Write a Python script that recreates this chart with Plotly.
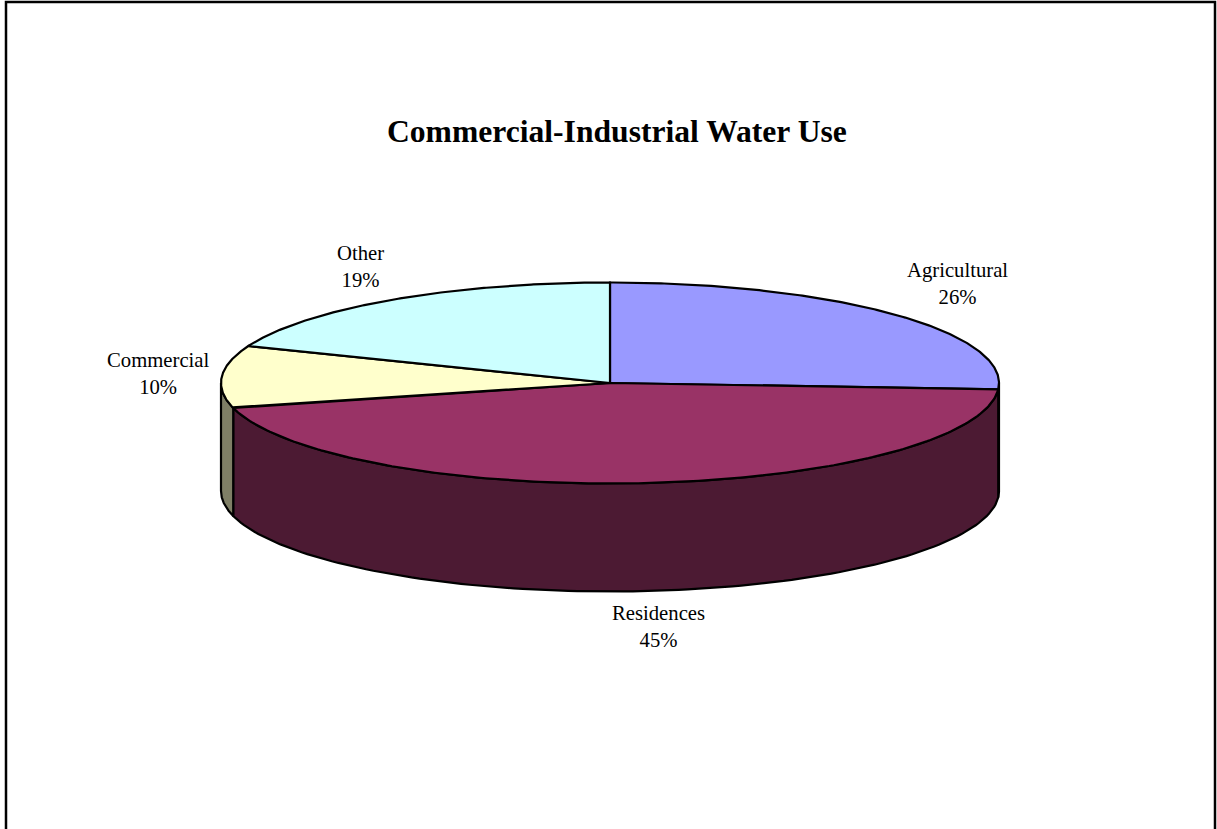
import numpy as np
import plotly.graph_objects as go

# Data
categories = ["Agricultural", "Residences", "Commercial", "Other"]
percent_values = [26, 45, 10, 19]
top_colors = ["#9999FF", "#993366", "#FFFFCC", "#CCFFFF"]
wall_colors = ["#4C4C7F", "#4C1A33", "#7F7F66", "#667F7F"]
chart_title = "Commercial-Industrial Water Use"

# Label positions (pixel coordinates of text centres)
label_x = [957, 658, 158, 360]
label_y = [283, 626, 373, 266]

W, H = 1217, 829
cx, cy, rx, ry, depth = 610, 383, 389, 100.5, 108


def rim(theta_deg, dy=0.0):
    t = np.radians(theta_deg)
    return cx + rx * np.sin(t), cy - ry * np.cos(t) + dy


fig = go.Figure()

total = sum(percent_values)
edges = np.concatenate([[0], np.cumsum(percent_values)]) / total * 360

# Side walls: only the front half (90 to 270 degrees) is visible
for i, name in enumerate(categories):
    a0, a1 = max(edges[i], 90), min(edges[i + 1], 270)
    if a1 <= a0:
        continue
    th = np.linspace(a0, a1, 120)
    x1, y1 = rim(th)
    x2, y2 = rim(th[::-1], depth)
    fig.add_trace(go.Scatter(
        x=np.concatenate([x1, x2, x1[:1]]), y=np.concatenate([y1, y2, y1[:1]]),
        mode="lines", fill="toself", fillcolor=wall_colors[i],
        line=dict(color="black", width=2.2), hoverinfo="skip", showlegend=False))

# Top faces
for i, name in enumerate(categories):
    th = np.linspace(edges[i], edges[i + 1], 200)
    x, y = rim(th)
    fig.add_trace(go.Scatter(
        x=np.concatenate([[cx], x, [cx]]), y=np.concatenate([[cy], y, [cy]]),
        mode="lines", fill="toself", fillcolor=top_colors[i],
        line=dict(color="black", width=2.2), name=name, hoverinfo="name", showlegend=False))

# Data labels
for name, v, lx, ly in zip(categories, percent_values, label_x, label_y):
    fig.add_annotation(x=lx, y=ly, xref="x", yref="y", showarrow=False,
                       text=f"{name}<br>{v}%", align="center",
                       font=dict(family="Liberation Serif", size=20.7, color="black"))

# Title
fig.add_annotation(x=617, y=131, xref="x", yref="y", showarrow=False, text=f"<b>{chart_title}</b>",
                   font=dict(family="Liberation Serif", size=31.6, color="black"))

# Chart frame (open at the bottom, cut off by the picture edge)
fig.add_trace(go.Scatter(x=[6, 6, 1215, 1215], y=[H, 2, 2, H], mode="lines",
                         line=dict(color="black", width=2.5), hoverinfo="skip", showlegend=False))

fig.update_layout(
    width=W, height=H, margin=dict(l=0, r=0, t=0, b=0),
    paper_bgcolor="white", plot_bgcolor="white", showlegend=False,
    xaxis=dict(range=[0, W], visible=False, fixedrange=True),
    yaxis=dict(range=[H, 0], visible=False, fixedrange=True),
)
fig.write_html("out.html", config={"displayModeBar": False},
               post_script="document.body.style.margin='0';document.documentElement.style.overflow='hidden';")
